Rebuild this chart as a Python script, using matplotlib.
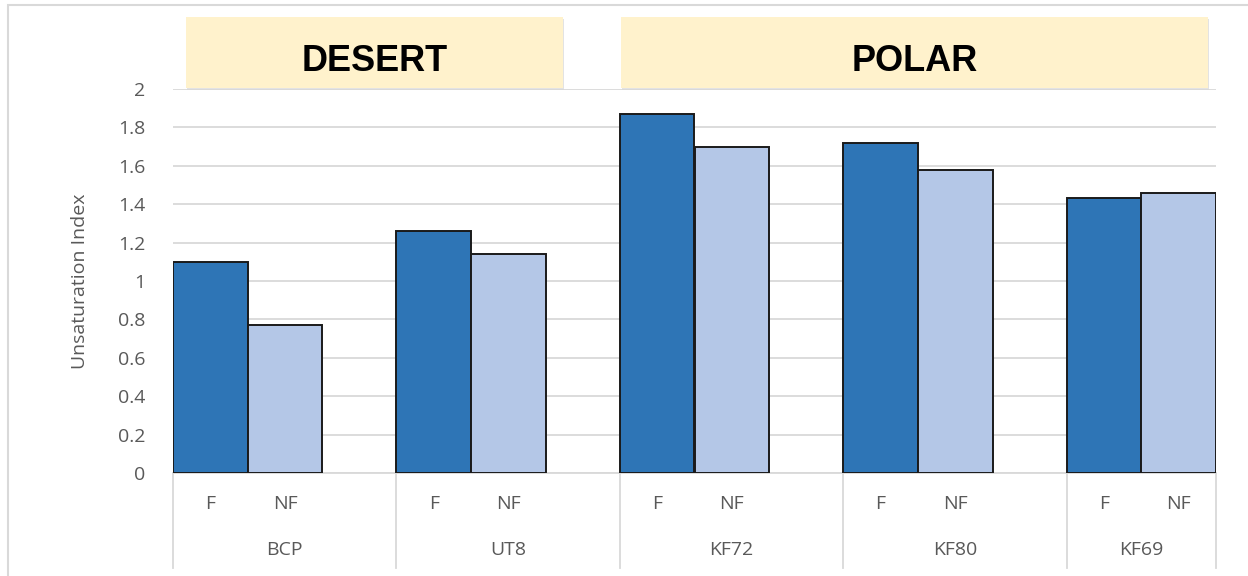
import numpy as np
import matplotlib.pyplot as plt
from matplotlib.patches import Rectangle
import matplotlib.transforms as mtransforms

# dados
sites = ['BCP', 'UT8', 'KF72', 'KF80', 'KF69']
sub_labels = ['F', 'NF']
vals_f = [1.10, 1.26, 1.87, 1.72, 1.43]
vals_nf = [0.77, 1.14, 1.70, 1.58, 1.46]
regions = ['DESERT', 'POLAR']

plt.rcParams['font.family'] = ['Open Sans', 'DejaVu Sans']
gray = '#595959'

fig = plt.figure(figsize=(12.48, 5.76), dpi=100)
ax = fig.add_axes([173 / 1248, 1 - 473 / 576, (1216 - 173) / 1248, 384 / 576])

w = 0.334
x = np.arange(len(sites))
ax.bar(x, vals_f, width=w, align='edge', color='#2E75B6', edgecolor='#1a1a1a', linewidth=1.4, zorder=3)
ax.bar(x + w, vals_nf, width=w, align='edge', color='#B4C7E7', edgecolor='#1a1a1a', linewidth=1.4, zorder=3)

xmax = len(sites) - 1 + 2 * w
ax.set_xlim(0, xmax)
ax.set_ylim(0, 2)
ax.set_yticks(np.arange(0, 2.01, 0.2))
ax.set_yticklabels(['0', '0.2', '0.4', '0.6', '0.8', '1', '1.2', '1.4', '1.6', '1.8', '2'])
ax.tick_params(axis='y', length=0, pad=20, labelsize=14, labelcolor=gray)
ax.set_xticks([])
ax.grid(axis='y', color='#d9d9d9', linewidth=1.3, zorder=0)
for s in ['left', 'right', 'top']:
    ax.spines[s].set_visible(False)
ax.spines['bottom'].set_color('#d9d9d9')
ax.spines['bottom'].set_linewidth(1.3)

ax.set_ylabel('Unsaturation Index', fontsize=14, color=gray)
ax.yaxis.set_label_coords(-0.081, 0.5)

# rótulos do eixo x em dois níveis
trans = mtransforms.blended_transform_factory(ax.transData, ax.transAxes)
for i, s in enumerate(sites):
    ax.text(i + w / 2, -0.08, sub_labels[0], transform=trans, ha='center', va='center',
            fontsize=14, color=gray)
    ax.text(i + 1.5 * w, -0.08, sub_labels[1], transform=trans, ha='center', va='center',
            fontsize=14, color=gray)
    c = (i + min(i + 1, xmax)) / 2
    ax.text(c, -0.2, s, transform=trans, ha='center', va='center', fontsize=14, color=gray)
for b in list(range(len(sites))) + [xmax]:
    ax.plot([b, b], [0, -0.247], transform=trans, color='#d9d9d9', linewidth=1.3, clip_on=False)

# caixas das regiões
boxes = [(0.058, 1.746), (2.004, 4.633)]
for (x0, x1), name in zip(boxes, regions):
    ax.add_patch(Rectangle((x0 + 0.004, 0.998), x1 - x0, 0.185, transform=trans, facecolor='#e3e3e3',
                           edgecolor='none', clip_on=False, zorder=1))
    ax.add_patch(Rectangle((x0, 1.0026), x1 - x0, 0.185, transform=trans, facecolor='#FFF2CC',
                           edgecolor='none', clip_on=False, zorder=2))
    ax.text((x0 + x1) / 2, 1.072, name, transform=trans, ha='center', va='center',
            fontsize=26, fontweight='bold', family=['Liberation Sans', 'DejaVu Sans'], color='black')

# moldura
fig.patches.append(Rectangle((8 / 1248, -0.01), 1.1, 1 - 5 / 576 + 0.01, transform=fig.transFigure,
                             facecolor='none', edgecolor='#d9d9d9', linewidth=1.5))

fig.savefig('out.png', dpi=100)
